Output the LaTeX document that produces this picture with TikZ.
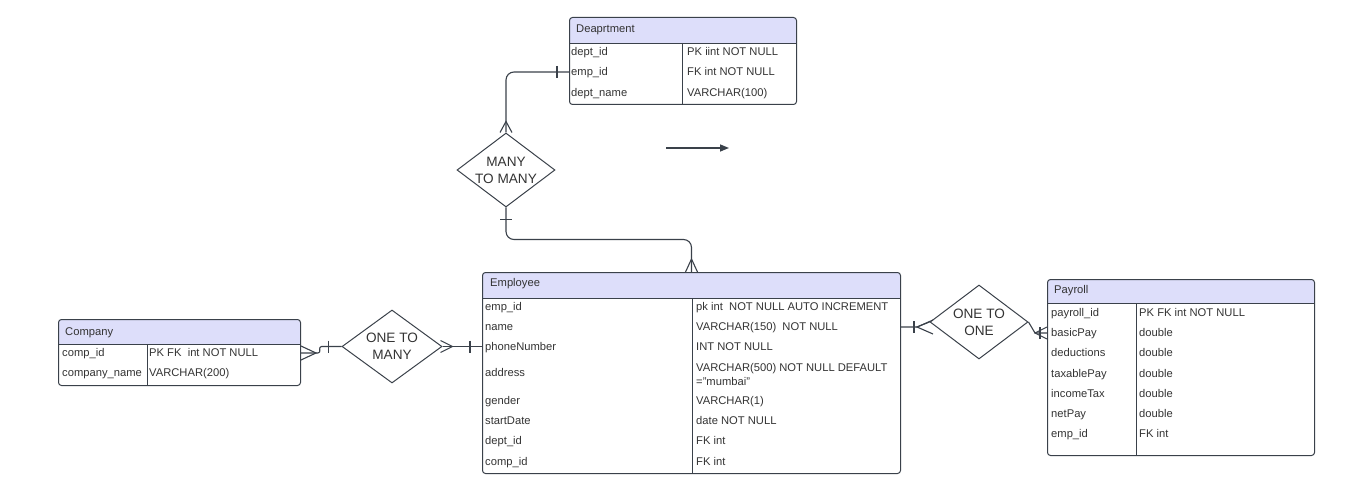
\documentclass[tikz,border=0pt]{standalone}
\usepackage{fontspec}
\setmainfont{Liberation Sans}
\usetikzlibrary{shapes.geometric,arrows.meta,calc}
\definecolor{linegray}{RGB}{58,65,74}
\definecolor{headfill}{RGB}{221,222,250}
\definecolor{txtgray}{RGB}{51,51,51}

\begin{document}
\begin{tikzpicture}[x=1pt,y=-1pt]
\tikzset{tabframe/.style={draw=linegray, line width=1pt, rounded corners=3pt, inner sep=0pt, anchor=north west},
  headbox/.style={fill=headfill, rounded corners=3pt, inner sep=0pt, anchor=north west},
  tabline/.style={draw=linegray, line width=1pt},
  fldbase/.style={anchor=west, inner sep=0pt, text=txtgray, font=\fontsize{11.2}{14}\selectfont},
  fld/.style={fldbase, text height=7.5pt, text depth=0pt},
  reldiam/.style={diamond, draw=linegray, line width=1pt, inner sep=0pt, shape aspect=1.32, minimum width=98pt, minimum height=74pt, align=center, text=txtgray, font=\fontsize{13.6}{17}\selectfont},
  conn/.style={draw=linegray, line width=1.1pt}}
\useasboundingbox (0,0) rectangle (1354,481);

\node[headbox, minimum width=227pt, minimum height=26pt] (dept-h) at (569,17) {};
\fill[headfill] (dept-h.west) rectangle (dept-h.south east);
\node[tabframe, minimum width=227pt, minimum height=87pt] (dept) at (569,17) {};
\draw[tabline] (dept-h.south west) -- (dept-h.south east);
\draw[tabline] (682,43) -- (682,104);
\node[fld] (dept-t) at (576,29) {Deaprtment};
\node[fld] (dept-a1) at (571,52) {dept\_id};
\node[fld] (dept-b1) at (687,52) {PK iint NOT NULL};
\node[fld] (dept-a2) at (571,72) {emp\_id};
\node[fld] (dept-b2) at (687,72) {FK int NOT NULL};
\node[fld] (dept-a3) at (571,93) {dept\_name};
\node[fld] (dept-b3) at (687,93) {VARCHAR(100)};

\node[headbox, minimum width=418pt, minimum height=26pt] (emp-h) at (482,272) {};
\fill[headfill] (emp-h.west) rectangle (emp-h.south east);
\node[tabframe, minimum width=418pt, minimum height=201pt] (emp) at (482,272) {};
\draw[tabline] (emp-h.south west) -- (emp-h.south east);
\draw[tabline] (692,298) -- (692,473);
\node[fld] (emp-t) at (490,283) {Employee};
\node[fld] (emp-a1) at (485,307) {emp\_id};
\node[fld] (emp-b1) at (696,307) {pk int\ \ NOT NULL AUTO INCREMENT};
\node[fld] (emp-a2) at (485,327) {name};
\node[fld] (emp-b2) at (696,327) {VARCHAR(150)\ \ NOT NULL};
\node[fld] (emp-a3) at (485,347) {phoneNumber};
\node[fld] (emp-b3) at (696,347) {INT NOT NULL};
\node[fld] (emp-a4) at (485,373) {address};
\node[fldbase, align=left] (emp-b4) at (696,374.5) {VARCHAR(500) NOT NULL DEFAULT\\="mumbai"};
\node[fld] (emp-a5) at (485,401) {gender};
\node[fld] (emp-b5) at (696,401) {VARCHAR(1)};
\node[fld] (emp-a6) at (485,421) {startDate};
\node[fld] (emp-b6) at (696,421) {date NOT NULL};
\node[fld] (emp-a7) at (485,441) {dept\_id};
\node[fld] (emp-b7) at (696,441) {FK int};
\node[fld] (emp-a8) at (485,462) {comp\_id};
\node[fld] (emp-b8) at (696,462) {FK int};

\node[headbox, minimum width=242pt, minimum height=25pt] (comp-h) at (58,319) {};
\fill[headfill] (comp-h.west) rectangle (comp-h.south east);
\node[tabframe, minimum width=242pt, minimum height=66pt] (comp) at (58,319) {};
\draw[tabline] (comp-h.south west) -- (comp-h.south east);
\draw[tabline] (147,344) -- (147,385);
\node[fld] (comp-t) at (65,332) {Company};
\node[fld] (comp-a1) at (62,353) {comp\_id};
\node[fld] (comp-b1) at (149,353) {PK FK\ \ int NOT NULL};
\node[fld] (comp-a2) at (62,373) {company\_name};
\node[fld] (comp-b2) at (149,373) {VARCHAR(200)};

\node[headbox, minimum width=267pt, minimum height=24pt] (pay-h) at (1047,279) {};
\fill[headfill] (pay-h.west) rectangle (pay-h.south east);
\node[tabframe, minimum width=267pt, minimum height=176pt] (pay) at (1047,279) {};
\draw[tabline] (pay-h.south west) -- (pay-h.south east);
\draw[tabline] (1136,303) -- (1136,455);
\node[fld] (pay-t) at (1054,290) {Payroll};
\node[fld] (pay-a1) at (1051,313) {payroll\_id};
\node[fld] (pay-b1) at (1139,313) {PK FK int NOT NULL};
\node[fld] (pay-a2) at (1051,333) {basicPay};
\node[fld] (pay-b2) at (1139,333) {double};
\node[fld] (pay-a3) at (1051,353) {deductions};
\node[fld] (pay-b3) at (1139,353) {double};
\node[fld] (pay-a4) at (1051,374) {taxablePay};
\node[fld] (pay-b4) at (1139,374) {double};
\node[fld] (pay-a5) at (1051,394) {incomeTax};
\node[fld] (pay-b5) at (1139,394) {double};
\node[fld] (pay-a6) at (1051,414) {netPay};
\node[fld] (pay-b6) at (1139,414) {double};
\node[fld] (pay-a7) at (1051,434) {emp\_id};
\node[fld] (pay-b7) at (1139,434) {FK int};

\node[reldiam] (mm) at (506,170) {MANY\\TO MANY};
\node[reldiam, minimum width=100pt, minimum height=73pt] (om) at (392,346.5) {ONE TO\\MANY};
\node[reldiam] (oo) at (979,322) {ONE TO\\ONE};

\coordinate (d1) at (dept.west |- dept-a2);
\draw[conn, rounded corners=8pt] (d1) -| (mm.north);
\draw[conn] ($(d1)+(-12,-6)$) -- ++(0,12);
\draw[conn] ($(mm.north)+(-6,0)$) -- ++(6,-11) -- ++(6,11);

\draw[conn, rounded corners=8pt] (mm.south) -- ++(0,32) -| (emp.north);
\draw[conn] ($(mm.south)+(-6,12)$) -- ++(12,0);
\draw[conn] ($(emp.north)+(-6,0)$) -- ++(6,-13) -- ++(6,13);

\coordinate (c1) at (comp.east |- comp-a1);
\draw[conn] (c1) -- ++(17,0) .. controls +(4,0) and +(-4,0) .. ($(om.west)+(-20,0)$) -- (om.west);
\draw[conn] ($(c1)+(0,-7)$) -- ++(15,7) -- ++(-15,7);
\draw[conn] ($(om.west)+(-13,-6)$) -- ++(0,12);

\coordinate (e3) at (emp.west |- om.east);
\draw[conn] (om.east) -- (e3);
\draw[conn] ($(om.east)+(-2,-6)$) -- ++(12,6) -- ++(-12,6);
\draw[conn] ($(e3)+(-12,-6)$) -- ++(0,12);

\coordinate (e2) at (emp.east |- emp-a2);
\draw[conn] (e2) -- ++(16,0) -- (oo.west);
\draw[conn] ($(e2)+(13,-6)$) -- ++(0,12);
\draw[conn] ($(e2)+(32,-7)$) -- ++(-16,7) -- ++(16,7);

\coordinate (p1) at (pay.west |- pay-a2);
\draw[conn] (oo.east) -- ($(p1)+(-12,0)$) -- (p1);
\draw[conn] ($(p1)+(-7,-6)$) -- ++(0,12);
\draw[conn] ($(p1)+(0,-6)$) -- ++(-12,6) -- ++(12,6);

\coordinate (arr-s) at (666,148);
\coordinate (arr-e) at (729,148);
\draw[conn, line width=1.4pt, -{Triangle[length=9pt,width=7pt]}] (arr-s) -- (arr-e);
\end{tikzpicture}
\end{document}
